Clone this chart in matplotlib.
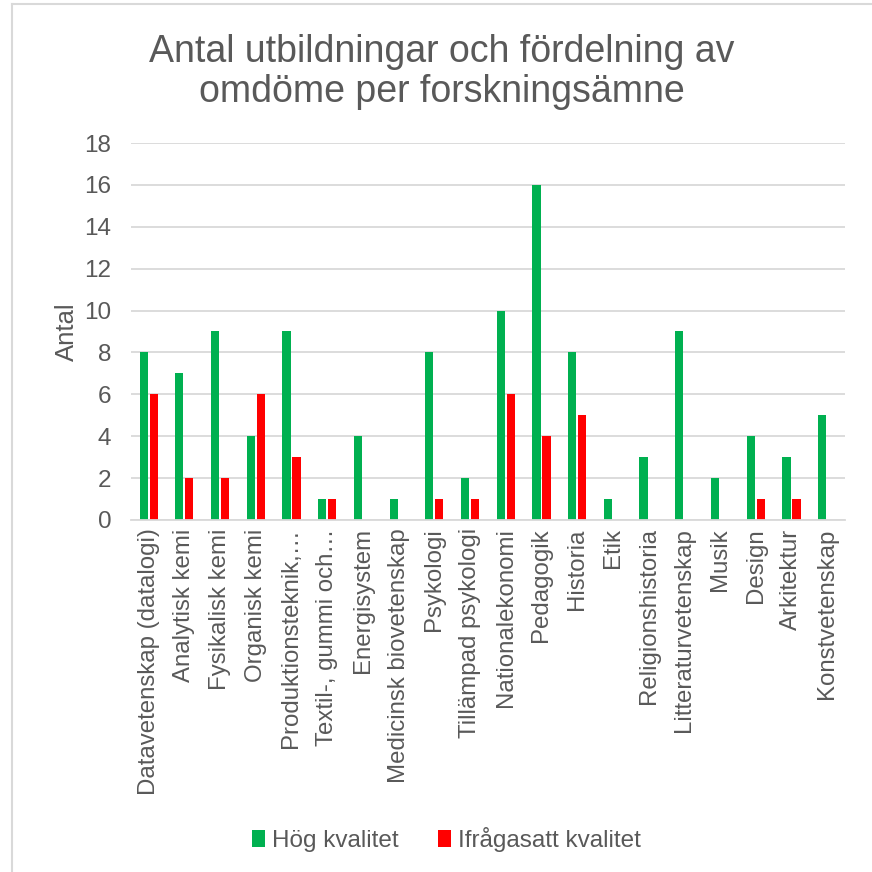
import numpy as np
from matplotlib import pyplot as plt
from matplotlib.lines import Line2D

amnen = ["Datavetenskap (datalogi)", "Analytisk kemi", "Fysikalisk kemi",
         "Organisk kemi", "Produktionsteknik,…", "Textil-, gummi och…",
         "Energisystem", "Medicinsk biovetenskap", "Psykologi",
         "Tillämpad psykologi", "Nationalekonomi", "Pedagogik", "Historia",
         "Etik", "Religionshistoria", "Litteraturvetenskap", "Musik",
         "Design", "Arkitektur", "Konstvetenskap"]
hog = [8, 7, 9, 4, 9, 1, 4, 1, 8, 2, 10, 16, 8, 1, 3, 9, 2, 4, 3, 5]
ifragasatt = [6, 2, 2, 6, 3, 1, 0, 0, 1, 1, 6, 4, 5, 0, 0, 0, 0, 1, 1, 0]
yticks = [0, 2, 4, 6, 8, 10, 12, 14, 16, 18]

grey = "#595959"
plt.rcParams['font.family'] = ['Liberation Sans', 'DejaVu Sans']

fig = plt.figure(figsize=(8.72, 8.72), dpi=100)
ax = fig.add_axes([0.150, 0.4037, 0.819, 0.4323])

x = np.arange(len(amnen))
w = 0.23
ax.bar(x - 0.14, hog, w, color="#00B050", label="Hög kvalitet")
ax.bar(x + 0.14, ifragasatt, w, color="#FF0000", label="Ifrågasatt kvalitet")

ax.set_xlim(-0.5, len(amnen) - 0.5)
ax.set_ylim(0, 18)
ax.set_yticks(yticks)
ax.yaxis.grid(True, color="#D9D9D9", linewidth=1.3)
ax.set_axisbelow(True)
for s in ["top", "right", "left"]:
    ax.spines[s].set_visible(False)
ax.spines["bottom"].set_color("#D9D9D9")
ax.spines["bottom"].set_linewidth(1.3)
ax.tick_params(axis="both", length=0, colors=grey)
ax.tick_params(axis="y", pad=14, labelsize=17.5)
ax.tick_params(axis="x", pad=6, labelsize=17.3)
ax.set_xticks(x)
ax.set_xticklabels(amnen, rotation=90, color=grey)
ax.set_ylabel("Antal", fontsize=18.5, color=grey, labelpad=4)

fig.suptitle("Antal utbildningar och fördelning av\nomdöme per forskningsämne",
             x=0.507, y=0.961, fontsize=27, color=grey, linespacing=1.15)

fig.legend(loc="center", bbox_to_anchor=(0.512, 0.037), ncol=2, frameon=False,
           fontsize=17.5, labelcolor=grey, handlelength=0.55, handleheight=0.7,
           handletextpad=0.3, columnspacing=1.6)

# thin grey frame like the original chart border
fig.add_artist(Line2D([0.014, 0.014], [0, 0.995], color="#D9D9D9", lw=1.5))
fig.add_artist(Line2D([0.014, 1], [0.995, 0.995], color="#D9D9D9", lw=1.5))

fig.savefig("out.png", dpi=100, facecolor="white")
